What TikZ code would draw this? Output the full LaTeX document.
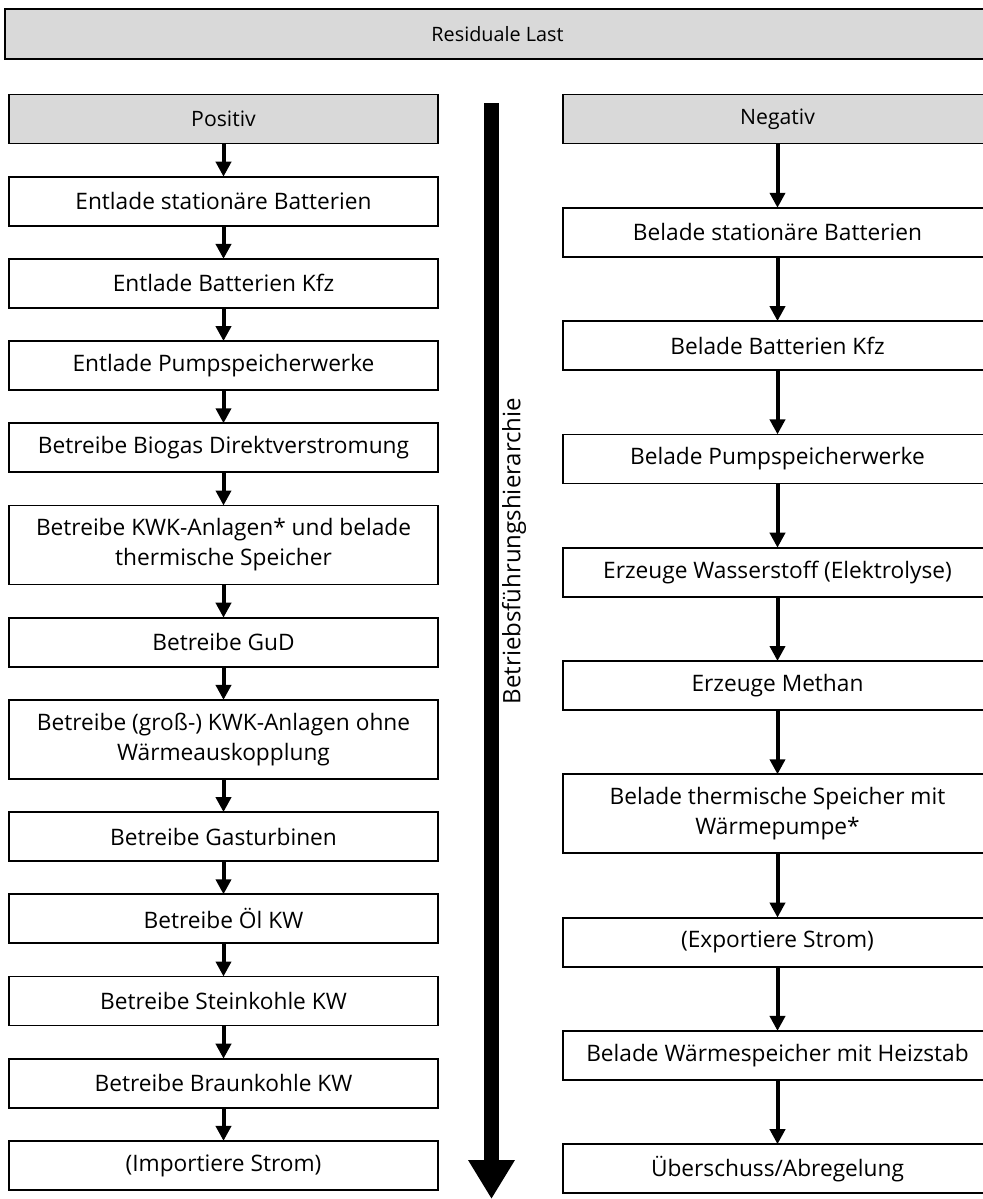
\documentclass[tikz,border=0pt]{standalone}
\usepackage{fontspec}
\setmainfont{Open Sans}
\usetikzlibrary{positioning,arrows.meta}

\definecolor{headgray}{RGB}{217,217,217}

\tikzset{
  box/.style={draw, line width=0.9pt, outer sep=0pt, minimum width=214.5pt, minimum height=24.5pt,
    align=center, inner sep=2pt, font=\fontsize{11.35}{15}\selectfont},
  headbox/.style={box, fill=headgray, font=\fontsize{10.6}{13}\selectfont},
  dbl/.style={minimum height=39.5pt},
  flow/.style={line width=2pt, -{Triangle[length=7.5pt,width=7.5pt]}},
}

\begin{document}
\begin{tikzpicture}[x=0.5pt,y=-0.5pt]
  \useasboundingbox (0,0) rectangle (983,1199);
  \clip (0,0) rectangle (983,1199);

  % Kopf
  \node[headbox, minimum width=492.5pt, minimum height=25pt, font=\fontsize{9.9}{12}\selectfont] (rl) at (497.5,34) {Residuale Last};

  % Positive Residuallast
  \node[headbox] (pos) at (223.5,119) {Positiv};
  \begin{scope}[node distance=16.6pt]
    \node[box, below=of pos] (el1) {Entlade stationäre Batterien};
    \node[box, below=of el1] (el2) {Entlade Batterien Kfz};
    \node[box, below=of el2] (el3) {Entlade Pumpspeicherwerke};
    \node[box, below=of el3] (el4) {Betreibe Biogas Direktverstromung};
    \node[box, dbl, below=of el4] (el5) {Betreibe KWK-Anlagen* und belade\\thermische Speicher};
    \node[box, below=of el5] (el6) {Betreibe GuD};
    \node[box, dbl, below=of el6] (el7) {Betreibe (groß-) KWK-Anlagen ohne\\Wärmeauskopplung};
    \node[box, below=of el7] (el8) {Betreibe Gasturbinen};
    \node[box, below=of el8] (el9) {Betreibe Öl KW};
    \node[box, below=of el9] (el10) {Betreibe Steinkohle KW};
    \node[box, below=of el10] (el11) {Betreibe Braunkohle KW};
    \node[box, below=of el11] (el12) {(Importiere Strom)};
  \end{scope}

  % Negative Residuallast
  \node[headbox] (neg) at (777.5,119) {Negativ};
  \begin{scope}[node distance=32.15pt]
    \node[box, below=of neg] (bl1) {Belade stationäre Batterien};
    \node[box, below=of bl1] (bl2) {Belade Batterien Kfz};
    \node[box, below=of bl2] (bl3) {Belade Pumpspeicherwerke};
    \node[box, below=of bl3] (bl4) {Erzeuge Wasserstoff (Elektrolyse)};
    \node[box, below=of bl4] (bl5) {Erzeuge Methan};
    \node[box, dbl, below=of bl5] (bl6) {Belade thermische Speicher mit\\Wärmepumpe*};
    \node[box, below=of bl6] (bl7) {(Exportiere Strom)};
    \node[box, below=of bl7] (bl8) {Belade Wärmespeicher mit Heizstab};
    \node[box, below=of bl8] (bl9) {Überschuss/Abregelung};
  \end{scope}

  % Verbindungen
  \foreach \a/\b in {pos/el1,el1/el2,el2/el3,el3/el4,el4/el5,el5/el6,el6/el7,
                     el7/el8,el8/el9,el9/el10,el10/el11,el11/el12}
    \draw[flow] (\a) -- (\b);
  \foreach \a/\b in {neg/bl1,bl1/bl2,bl2/bl3,bl3/bl4,bl4/bl5,bl5/bl6,bl6/bl7,
                     bl7/bl8,bl8/bl9}
    \draw[flow] (\a) -- (\b);

  % Hierarchiepfeil
  \coordinate (hs) at (491.5,103);
  \coordinate (he) at (491.5,1199);
  \draw[line width=7.5pt, -{Triangle[length=19.5pt,width=22pt]}] (hs) -- (he);
  \node[rotate=90, font=\fontsize{12}{14}\selectfont] (hier) at (514,551) {Betriebsführungshierarchie};
\end{tikzpicture}
\end{document}
